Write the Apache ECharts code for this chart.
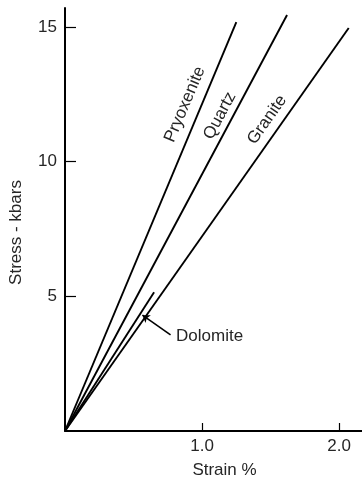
<!DOCTYPE html>
<html>
<head>
<meta charset="utf-8">
<script src="https://cdn.jsdelivr.net/npm/echarts@6/dist/echarts.min.js"></script>
<style>html,body{margin:0;padding:0;background:#fff;}#c{width:362px;height:484px;}</style>
</head>
<body>
<div id="c"></div>
<script>
const seriesNames = ['Pryoxenite', 'Quartz', 'Granite', 'Dolomite'];
const strainEnd = [1.25, 1.62, 2.07, 0.65];
const stressEnd = [15.18, 15.44, 14.96, 5.15];
const xTicks = [1.0, 2.0];
const yTicks = [5, 10, 15];
const xName = 'Strain %';
const yName = 'Stress - kbars';

const FONT = "'Liberation Sans', Arial, sans-serif";
const TXT = '#262626';
const chart = echarts.init(document.getElementById('c'), null, {renderer: 'canvas'});

const labelSpec = {
  Pryoxenite: {coord: [0.875, 12.12], rotate: 67},
  Quartz: {coord: [1.13, 11.7], rotate: 62},
  Granite: {coord: [1.475, 11.55], rotate: 55}
};

const series = seriesNames.map((name, i) => {
  const s = {
    name: name,
    type: 'line',
    data: [[0, 0], [strainEnd[i], stressEnd[i]]],
    symbol: 'none',
    lineStyle: {color: '#000', width: 1.9},
    silent: true,
    animation: false
  };
  if (labelSpec[name]) {
    s.markPoint = {
      symbol: 'circle', symbolSize: 0,
      data: [{coord: labelSpec[name].coord, value: name}],
      label: {show: true, formatter: name, rotate: labelSpec[name].rotate, position: 'inside',
        fontFamily: FONT, fontSize: 17, color: TXT}
    };
  }
  if (name === 'Dolomite') {
    s.markLine = {
      silent: true,
      symbol: ['none', 'arrow'],
      symbolSize: [7, 7],
      lineStyle: {color: '#000', width: 1.6, type: 'solid'},
      label: {show: false},
      data: [[{coord: [0.77, 3.57]}, {coord: [0.565, 4.3]}]]
    };
    s.markPoint = {
      symbol: 'circle', symbolSize: 0,
      data: [{coord: [0.81, 3.53], value: name}],
      label: {show: true, formatter: name, position: 'right', distance: 0,
        fontFamily: FONT, fontSize: 17, color: TXT}
    };
  }
  return s;
});

chart.setOption({
  animation: false,
  backgroundColor: '#fff',
  grid: {left: 64, right: 0, top: 8, bottom: 49, containLabel: false},
  xAxis: {
    type: 'value', min: 0, max: 2.167,
    axisLine: {show: true, onZero: false, lineStyle: {color: '#000', width: 2}},
    axisTick: {show: true, inside: true, length: 8, customValues: xTicks, lineStyle: {color: '#000', width: 1.2}},
    axisLabel: {show: true, customValues: xTicks, margin: 7, formatter: v => v.toFixed(1),
      fontFamily: FONT, fontSize: 17, color: TXT},
    splitLine: {show: false},
    name: xName, nameLocation: 'middle', nameGap: 31,
    nameTextStyle: {fontFamily: FONT, fontSize: 17, color: TXT, padding: [0, 0, 0, 22]}
  },
  yAxis: {
    type: 'value', min: 0, max: 15.7,
    axisLine: {show: true, onZero: false, lineStyle: {color: '#000', width: 2}},
    axisTick: {show: true, inside: true, length: 11, customValues: yTicks, lineStyle: {color: '#000', width: 1.2}},
    axisLabel: {show: true, customValues: yTicks, margin: 8,
      fontFamily: FONT, fontSize: 17, color: TXT},
    splitLine: {show: false},
    name: yName, nameLocation: 'middle', nameGap: 40,
    nameTextStyle: {fontFamily: FONT, fontSize: 17, color: TXT, padding: [0, 26, 0, 0]}
  },
  series: series
});
</script>
</body>
</html>
